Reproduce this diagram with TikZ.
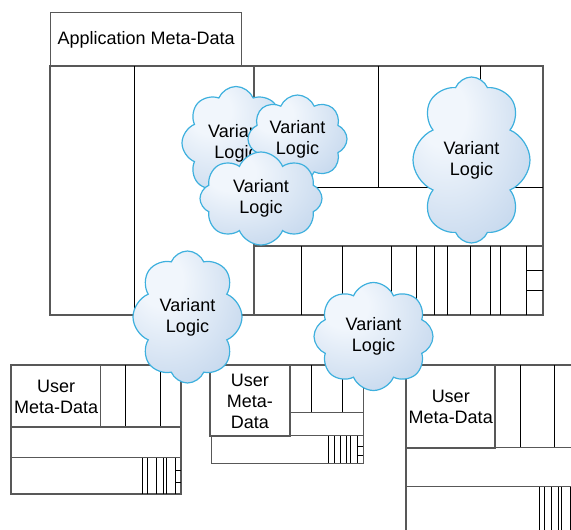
\documentclass[tikz,border=0pt]{standalone}
\usepackage{fontspec}
\setmainfont{Liberation Sans}
\usetikzlibrary{shapes.symbols}
\definecolor{cloudline}{RGB}{62,176,222}
\definecolor{cloudhi}{RGB}{241,246,252}
\definecolor{cloudlo}{RGB}{176,201,230}
\definecolor{framegray}{RGB}{88,88,88}
% soft highlight towards the upper left of each cloud
\pgfdeclareradialshading{cloudshade}{\pgfpoint{-14bp}{16bp}}{color(0bp)=(cloudhi); color(10bp)=(cloudhi); color(52bp)=(cloudlo); color(80bp)=(cloudlo)}
\begin{document}
\begin{tikzpicture}[x=1pt,y=-1pt,
  boxline/.style={draw=framegray,line width=1.2pt},
  thinrule/.style={draw=black,line width=0.8pt},
  txt/.style={font=\fontsize{18}{21}\selectfont, align=center, text=black},
  mdbox/.style={boxline, txt, rectangle, inner sep=1pt, anchor=north west},
  vcloud/.style={cloud, cloud puffs=8, cloud puff arc=135, cloud ignores aspect,
    draw=cloudline, line width=1.2pt, shade, shading=cloudshade, txt, inner sep=0pt}]
\useasboundingbox (0,0) rectangle (571,530);

% application meta-data block
\node[mdbox, minimum width=191pt, minimum height=54pt] (app) at (50,12) {Application Meta-Data};
\draw[boxline] (50,66) rectangle (543,315);
\draw[thinrule] (134,66) -- (134,315);
\draw[boxline] (254,66) -- (254,315);
\draw[thinrule] (378,66) -- (378,187);
\draw[thinrule] (480,66) -- (480,187);
\draw[thinrule] (254,187) -- (543,187);
\draw[boxline] (254,246) -- (543,246);
\foreach \x in {301.7,342.7,391,416.7,434,447,470,490.7,500.7,526.7}
  \draw[thinrule] (\x,246) -- (\x,315);
\foreach \y in {270,290.7}
  \draw[thinrule] (526.7,\y) -- (543,\y);

% user meta-data block, left
\node[mdbox, minimum width=89pt, minimum height=62pt] (user1) at (11,365) {User\\Meta-Data};
\draw[boxline] (11,365) rectangle (181,494);
\foreach \x in {125.7,160}
  \draw[thinrule] (\x,365) -- (\x,427);
\draw[boxline] (11,427) -- (181,427);
\draw[boxline] (11,457.7) -- (181,457.7);
\foreach \x in {142.7,147.7,156.7,163.3,166.7,175.7}
  \draw[thinrule] (\x,457.7) -- (\x,494);
\foreach \y in {470,482.3}
  \draw[thinrule] (175.7,\y) -- (181,\y);

% user meta-data block, middle
\node[mdbox, minimum width=80pt, minimum height=70.7pt] (user2) at (209.3,365) {User\\Meta-\\Data};
\draw[boxline] (209.3,365) rectangle (363.3,435.7);
\foreach \x in {311.7,342.7}
  \draw[thinrule] (\x,365) -- (\x,412.7);
\draw[boxline] (289.3,412.7) -- (363.3,412.7);
\draw[boxline] (211.7,435.7) rectangle (363.3,463.3);
\foreach \x in {328.3,334,340,346,350.7,357.7}
  \draw[thinrule] (\x,435.7) -- (\x,463.3);
\foreach \y in {446.7,455}
  \draw[thinrule] (357.7,\y) -- (363.3,\y);

% user meta-data block, right
\node[mdbox, minimum width=88.3pt, minimum height=82.7pt] (user3) at (406,365) {User\\Meta-Data};
\draw[boxline] (571,365) -- (406,365) -- (406,530);
\foreach \x in {520,554.3}
  \draw[thinrule] (\x,365) -- (\x,447.7);
\draw[boxline] (406,447.7) -- (571,447.7);
\draw[boxline] (406,486.7) -- (571,486.7);
\foreach \x in {539.3,544.3,551,558.3,561,570}
  \draw[thinrule] (\x,486.7) -- (\x,530);
\foreach \y in {501.7,518}
  \draw[thinrule] (570,\y) -- (571,\y);

% variant logic clouds
\node[vcloud, minimum width=108pt, minimum height=113pt] (vlA) at (236,143) {Variant\\Logic};
\node[vcloud, minimum width=99pt, minimum height=88pt] (vlB) at (297.5,139) {Variant\\Logic};
\node[vcloud, minimum width=122pt, minimum height=93pt] (vlC) at (261,198.5) {Variant\\Logic};
\node[vcloud, minimum width=117pt, minimum height=166pt] (vlD) at (471.5,160) {Variant\\Logic};
\node[vcloud, minimum width=109pt, minimum height=132pt] (vlE) at (187.5,317) {Variant\\Logic};
\node[vcloud, minimum width=119pt, minimum height=108pt] (vlF) at (373.5,336.5) {Variant\\Logic};
\end{tikzpicture}
\end{document}
